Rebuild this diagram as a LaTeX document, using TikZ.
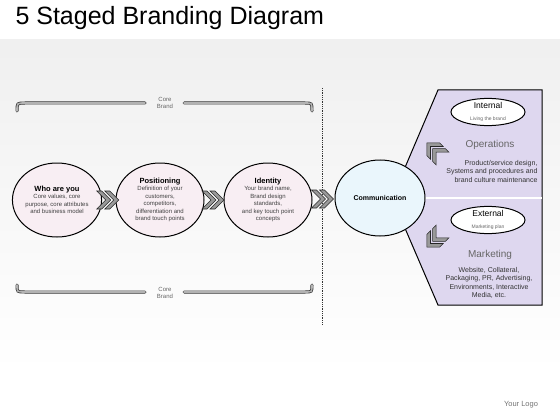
\documentclass[tikz,border=0pt]{standalone}
\usepackage{fontspec}
\setmainfont{Liberation Sans}
\usetikzlibrary{calc}
\usetikzlibrary{shapes.geometric}
\definecolor{stagepink}{RGB}{248,238,243}
\definecolor{commblue}{RGB}{234,246,252}
\definecolor{panellav}{RGB}{222,215,239}

\begin{document}
\begin{tikzpicture} [x=1pt, y=-1pt,
  stage/.style={ellipse, draw=black, line width=1pt, fill=stagepink, minimum width=88, minimum height=74, inner sep=0, align=center, text=black!75, font=\fontsize{6}{7.5}\selectfont},
  corebar/.style={draw=black!80, line width=0.7pt, double=black!30, double distance=1.6pt, line cap=round},
  tag/.style={ellipse, draw=black, line width=1pt, fill=white, minimum width=74, minimum height=27, inner sep=0, align=center},
  chev/.pic={
    \foreach \d in {-2,6}
      \filldraw[fill=black!40, draw=black!85, line width=0.6pt] (\d-10,-9) --++(5,0) --++(9,9) --++(-9,9) --++(-5,0) --++(9,-9) -- cycle;
  }]
\useasboundingbox (0,0) rectangle (560,420);
\fill[top color=black!6, bottom color=white] (0,40) rectangle (560,372);

\node[anchor=west, font=\fontsize{25}{29}\selectfont] (title) at (12,18) {5 Staged Branding Diagram};

% core brand bars
\node[font=\fontsize{6}{7.5}\selectfont, text=black!60, align=center] (coretop) at (165,103) {Core\\Brand};
\node[font=\fontsize{6}{7.5}\selectfont, text=black!60, align=center] (corebot) at (165,293) {Core\\Brand};
\draw[corebar] (17,111) .. controls (17,103) .. (25,103) -- (145,103);
\draw[corebar] (184,103) -- (305,103) .. controls (312,103) .. (312,111);
\draw[corebar] (17,285) .. controls (17,292) .. (25,292) -- (145,292);
\draw[corebar] (184,292) -- (305,292) .. controls (312,292) .. (312,285);
\draw[black!80, densely dotted, thick] (322,88) -- (322,325);

% stages
\node[stage] (who) at (57,200) {{\fontsize{7.5}{9.5}\selectfont\bfseries\color{black} Who are you}\\Core values, core\\purpose, core attributes\\and business model};
\node[stage] (pos) at (160,200) {{\fontsize{7.5}{9.5}\selectfont\bfseries\color{black} Positioning}\\Definition of your\\customers,\\competitors,\\differentiation and\\brand touch points};
\node[stage] (ident) at (268,200) {{\fontsize{7.5}{9.5}\selectfont\bfseries\color{black} Identity}\\Your brand name,\\Brand design\\standards,\\and key touch point\\concepts};

% right panel
\filldraw[fill=panellav, draw=black, line width=1pt] (438,90) -- (542,90) -- (542,305) -- (438,305) -- (392,198) -- cycle;
\draw[black, line width=0.6pt, double=white, double distance=1.2pt] (420,198) -- (542,198);
\node[stage, fill=commblue, minimum width=90, minimum height=76] (comm) at (380,198) {\fontsize{7}{8}\selectfont\bfseries\color{black} Communication};

\foreach \a/\b in {who/pos, pos/ident, ident/comm}
  \pic at ($(\a.east)!0.5!(\b.west)$) {chev};

\node[tag] (intl) at (488,112) {{\fontsize{8.5}{10}\selectfont Internal}\\{\fontsize{5}{6}\selectfont\color{black!60} Living the brand}};
\node[font=\fontsize{10}{11}\selectfont, text=black!60] (ops) at (490,145) {Operations};
\node[anchor=east, font=\fontsize{7}{8.5}\selectfont, align=right, text=black!80] (opstext) at (541,171) {Product/service design,\\Systems and procedures and\\brand culture maintenance};
\pic[rotate=135] at (434,150) {chev};

\node[tag] (extl) at (488,220) {{\fontsize{8.5}{10}\selectfont External}\\{\fontsize{5}{6}\selectfont\color{black!60} Marketing plan}};
\node[font=\fontsize{10}{11}\selectfont, text=black!60] (mkt) at (490,255) {Marketing};
\node[font=\fontsize{7}{8.5}\selectfont, align=center, text=black!80] (mkttext) at (489,283) {Website, Collateral,\\Packaging, PR, Advertising,\\Environments, Interactive\\Media, etc.};
\pic[rotate=225] at (434,240) {chev};

\node[font=\fontsize{7.5}{8}\selectfont, text=black!55] (logo) at (521,405) {Your Logo};
\end{tikzpicture}
\end{document}
